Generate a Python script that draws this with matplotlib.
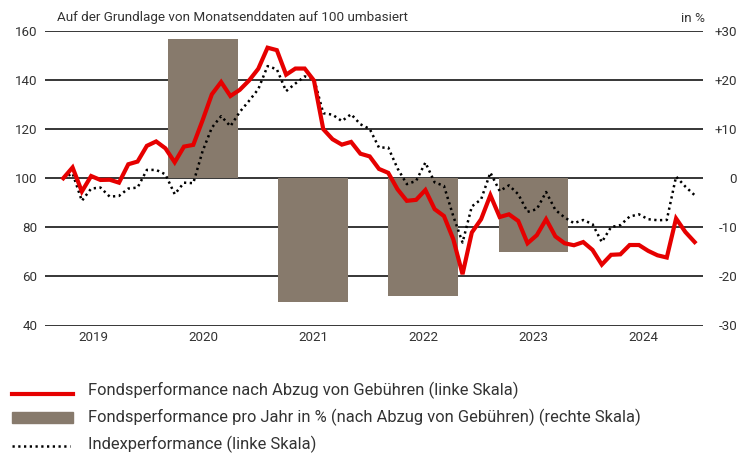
import matplotlib.pyplot as plt
from matplotlib.lines import Line2D
from matplotlib.patches import Rectangle
import numpy as np

plt.rcParams['font.family'] = ['Roboto', 'DejaVu Sans']

# monatliche Werte, auf 100 umbasiert
fund = [100, 104.4, 94.6, 100.9, 99.3, 99.4, 98.2, 105.7, 106.8, 113.2,
        115, 112.2, 106.5, 112.9, 113.6, 123.6, 134.2, 139.2, 133.5, 136,
        139.8, 144.6, 153.2, 152.2, 142.2, 144.7, 144.7, 139.8, 120, 115.9,
        113.7, 114.8, 110, 108.9, 103.8, 102.2, 95.5, 90.8, 91.2, 95.2,
        87.4, 84.6, 75.2, 60.9, 77.9, 83.3, 93.1, 84.2, 85.3, 82.6,
        73.5, 76.8, 83.3, 76.3, 73.5, 72.7, 74, 70.8, 64.8, 68.8,
        69, 72.8, 72.8, 70.4, 68.6, 67.7, 83.6, 78.1, 74]
index = [100, 102, 90.8, 95.8, 96.2, 92.5, 92.8, 95.8, 96.2, 103.4,
         103.4, 101.6, 93.5, 98.2, 98, 111, 120.6, 125.3, 121.2, 127,
         131.5, 136.3, 145.7, 144.4, 135.5, 138.6, 141.5, 140.6, 126.5, 125.9,
         123.3, 126.1, 122, 120.1, 112.5, 112.5, 104, 97.6, 98.9, 106.4,
         98.3, 96.9, 84.6, 73.8, 88.5, 91.4, 102.3, 94.8, 97.1, 93.5,
         86.3, 87.4, 94.4, 87.1, 84, 81.7, 83, 81.3, 74, 80.1,
         80.9, 84.4, 85.3, 83.3, 82.9, 83, 100.7, 96.6, 93.1]
years = ["2019", "2020", "2021", "2022", "2023", "2024"]
bar_years = ["2020", "2021", "2022", "2023"]
bar_pct = [28.3, -25.2, -24.0, -15.0]

RED = '#e60000'
BROWN = '#877a6c'
TXT = '#333333'

fig = plt.figure(figsize=(7.48, 4.53), dpi=100)
ax = fig.add_axes([45 / 748, 1 - 325.5 / 453, 658 / 748, 294.5 / 453])
axl = ax.twinx()

months = np.arange(len(fund))
year_pos = 3.2 + 11.85 * np.arange(len(years))
bar_pos = [year_pos[years.index(y)] for y in bar_years]

# Balken (rechte Skala) auf der unteren Achse
ax.bar(bar_pos, bar_pct, width=7.45, color=BROWN, zorder=2)
ax.set_ylim(-30, 30)
ax.set_yticks(np.arange(-30, 31, 10))
ax.set_yticklabels(['-30', '-20', '-10', '0', '+10', '+20', '+30'])
ax.yaxis.tick_right()
ax.grid(axis='y', color='black', lw=1.1)
ax.set_axisbelow(True)
ax.set_xlim(-1.97, 68.9)
ax.set_xticks(year_pos)
ax.set_xticklabels(years)

# Linien (linke Skala)
axl.plot(months, index, color='black', lw=1.8, ls=(0, (0.9, 1.4)), zorder=3)
axl.plot(months, fund, color=RED, lw=3.0, solid_joinstyle='miter', zorder=4)
axl.set_ylim(40, 160)
axl.set_yticks(np.arange(40, 161, 20))
axl.yaxis.tick_left()

for a in (ax, axl):
    for s in a.spines.values():
        s.set_visible(False)
    a.tick_params(length=0, labelsize=9.6, colors=TXT)
ax.tick_params(axis='y', pad=24.5)
for lab in ax.get_yticklabels():
    lab.set_horizontalalignment('right')
axl.tick_params(axis='y', pad=5.5)
ax.tick_params(axis='x', pad=4)

fig.text(57 / 748, 1 - 18 / 453, 'Auf der Grundlage von Monatsenddaten auf 100 umbasiert',
         fontsize=9.7, color=TXT, va='center')
fig.text(705 / 748, 1 - 18 / 453, 'in %', fontsize=9.7, color=TXT, va='center', ha='right')

# Legende
rows = [390, 417, 444]
labels = ['Fondsperformance nach Abzug von Gebühren (linke Skala)',
          'Fondsperformance pro Jahr in % (nach Abzug von Gebühren) (rechte Skala)',
          'Indexperformance (linke Skala)']
fig.add_artist(Line2D([12 / 748, 73 / 748], [1 - (rows[0] + 4) / 453] * 2,
                      color=RED, lw=3.0, transform=fig.transFigure))
fig.add_artist(Rectangle((12 / 748, 1 - (rows[1] + 6) / 453), 61 / 748, 11 / 453,
                         color=BROWN, transform=fig.transFigure))
fig.add_artist(Line2D([12 / 748, 70 / 748], [1 - (rows[2] + 2) / 453] * 2,
                      color='black', lw=1.8, ls=(0, (0.9, 1.4)), transform=fig.transFigure))
for r, t in zip(rows, labels):
    fig.text(88 / 748, 1 - r / 453, t, fontsize=11.9, color=TXT, va='center')

fig.savefig('out.png', dpi=100)
